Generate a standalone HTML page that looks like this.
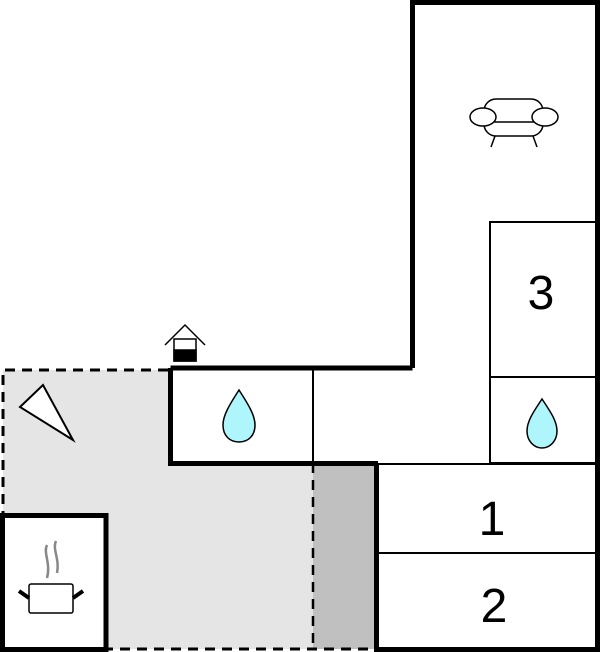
<!DOCTYPE html>
<html><head><meta charset="utf-8"><style>
html,body{margin:0;padding:0;background:#fff;width:600px;height:652px;overflow:hidden}
svg{display:block}
text{font-family:"Liberation Sans",sans-serif;font-size:48px;fill:#000}
</style></head><body>
<svg width="600" height="652" viewBox="0 0 600 652" xmlns="http://www.w3.org/2000/svg">
<rect x="3" y="370" width="372" height="279" fill="#e5e5e5"/>
<rect x="313" y="463" width="62" height="186" fill="#c0c0c0"/>
<path d="M168 370 H3 V649 H375" fill="none" stroke="#000" stroke-width="3" stroke-dasharray="10,7"/>
<line x1="313" y1="463" x2="313" y2="649" stroke="#000" stroke-width="2.5" stroke-dasharray="10,7"/>
<rect x="170" y="368" width="205" height="95" fill="#fff"/>
<rect x="376" y="463" width="222" height="187" fill="#fff"/>
<rect x="3" y="515" width="103" height="135" fill="#fff"/>
<g stroke="#000" stroke-width="2" fill="none">
<line x1="313" y1="368" x2="313" y2="463"/>
<rect x="490" y="222" width="107" height="241"/>
<line x1="490" y1="377" x2="597" y2="377"/>
<line x1="376" y1="464" x2="597" y2="464"/>
<line x1="376" y1="553" x2="597" y2="553"/>
</g>
<g stroke="#000" stroke-width="5" fill="none">
<path d="M412.5 368 V2.5 H597.5 V649.5 H376.5 V463.5"/>
<path d="M170.5 368 H412.5"/>
<path d="M170.5 368 V463.5 H378"/>
<path d="M1 649.5 H106 V515.5 H2.5 V652"/>
</g>
<text x="541" y="309" text-anchor="middle">3</text>
<text x="492" y="535" text-anchor="middle">1</text>
<text x="494" y="622" text-anchor="middle">2</text>
<path d="M239 390 C248 404 255 415 255 425 C255 436 248 442 239 442 C230 442 223 436 223 425 C223 415 230 404 239 390 Z" fill="#aef6fb" stroke="#000" stroke-width="1.5"/>
<path d="M542 399 C550 411 557 421 557 431 C557 441 550 448 542 448 C534 448 527 441 527 431 C527 421 534 411 542 399 Z" fill="#aef6fb" stroke="#000" stroke-width="1.5"/>
<polygon points="20,407 43,385 73,440" fill="#fff" stroke="#000" stroke-width="2"/>
<g stroke="#000" stroke-width="1.5" fill="none">
<path d="M165 345 L185 325 L205 345"/>
<rect x="174" y="339" width="22" height="22" fill="#fff"/>
<rect x="174" y="350" width="22" height="11" fill="#000"/>
</g>
<g stroke="#000" stroke-width="1.5" fill="#fff">
<rect x="484" y="99" width="59" height="37" rx="12"/>
<line x1="490" y1="122" x2="537" y2="122"/>
<ellipse cx="483" cy="117" rx="13" ry="9"/>
<ellipse cx="545" cy="117" rx="13" ry="9"/>
<line x1="495" y1="136" x2="491" y2="147"/>
<line x1="533" y1="136" x2="537" y2="147"/>
</g>
<g stroke="#888" stroke-width="2.5" fill="none">
<path d="M47 545 C43 553 51 563 47 578"/>
<path d="M56 541 C52 549 60 559 57 573"/>
</g>
<g stroke="#000">
<rect x="29" y="584" width="44" height="29" rx="2" fill="#fff" stroke-width="1.5"/>
<line x1="19" y1="591" x2="29" y2="598" stroke-width="4"/>
<line x1="73" y1="598" x2="83" y2="591" stroke-width="4"/>
</g>
</svg>
</body></html>
